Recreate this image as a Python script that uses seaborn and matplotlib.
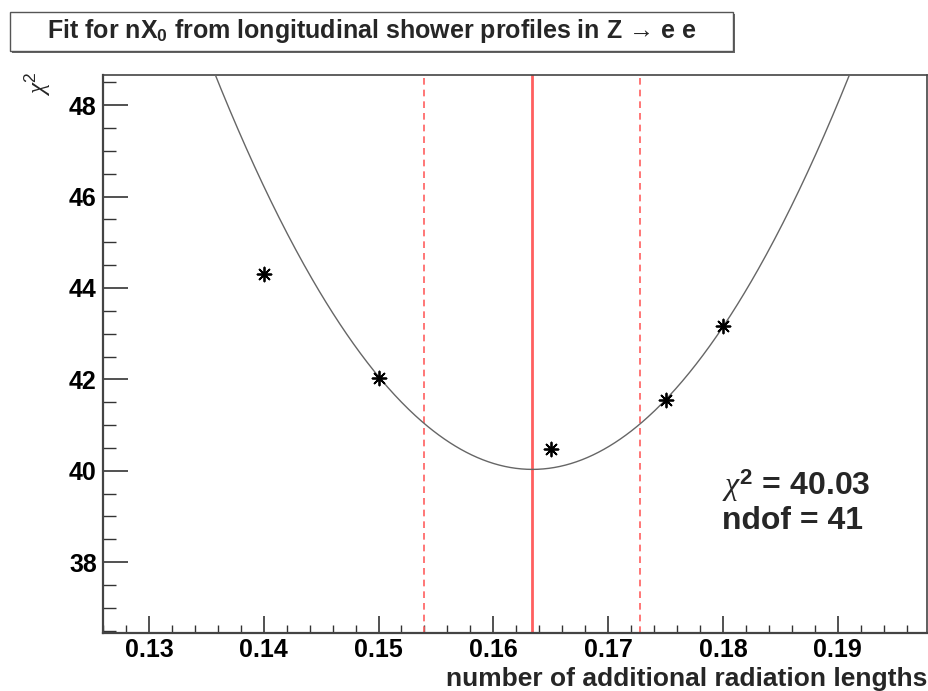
import numpy as np
import pandas as pd
import seaborn as sns
import matplotlib.pyplot as plt
from matplotlib.ticker import MultipleLocator, FixedLocator
from matplotlib.patches import Rectangle

# Scan points: chi2 of the shower-profile comparison vs. added material
n_x0 = [0.14, 0.15, 0.165, 0.175, 0.18]
chi2_values = [44.31, 42.03, 40.47, 41.55, 43.17]

# Parabolic fit result
chi2_min = 40.03
ndof = 41
best_x0 = 0.1634
sigma_x0 = 0.0094

x_tick_values = [0.13, 0.14, 0.15, 0.16, 0.17, 0.18, 0.19]
x_tick_labels = ["0.13", "0.14", "0.15", "0.16", "0.17", "0.18", "0.19"]
y_tick_values = [38, 40, 42, 44, 46, 48]
y_tick_labels = ["38", "40", "42", "44", "46", "48"]

x_range = (0.1260, 0.1978)
y_range = (36.45, 48.66)

sns.set_theme(style="white")
plt.rcParams["font.family"] = ["Liberation Sans", "DejaVu Sans"]
plt.rcParams["mathtext.fontset"] = "custom"
plt.rcParams["mathtext.it"] = "Liberation Serif:italic"
plt.rcParams["mathtext.rm"] = "Liberation Sans"
plt.rcParams["mathtext.sf"] = "Liberation Sans"
plt.rcParams["mathtext.bf"] = "Liberation Sans:bold"

W, H = 929, 691
fig = plt.figure(figsize=(W / 100, H / 100), dpi=100)
fig.patch.set_facecolor("white")

left, right, top, bottom = 103, 927.3, 75, 633
ax = fig.add_axes([left / W, 1 - bottom / H, (right - left) / W, (bottom - top) / H])
ax.set_facecolor("white")

# fitted parabola
fit_x = np.linspace(x_range[0], x_range[1], 600)
fit_df = pd.DataFrame({"x": fit_x, "chi2": chi2_min + ((fit_x - best_x0) / sigma_x0) ** 2})
sns.lineplot(data=fit_df, x="x", y="chi2", ax=ax, color="#666666", linewidth=1.0,
             sort=False, zorder=3)

# best value and one-sigma band edges
red = "#ff5f5f"
ax.axvline(best_x0, color=red, linewidth=2.0, zorder=2)
for xv in (best_x0 - sigma_x0, best_x0 + sigma_x0):
    ax.axvline(xv, color=red, linewidth=1.2, linestyle=(0, (4, 3)), zorder=2)

# scan points
pts = pd.DataFrame({"x": n_x0, "chi2": chi2_values})
sns.scatterplot(data=pts, x="x", y="chi2", ax=ax, marker=(8, 2, 0), s=100,
                color="black", linewidth=1.3, zorder=4)

ax.set_xlim(*x_range)
ax.set_ylim(*y_range)
ax.set_xlabel("")
ax.set_ylabel("")

ax.xaxis.set_major_locator(FixedLocator(x_tick_values))
ax.set_xticklabels(x_tick_labels)
ax.xaxis.set_minor_locator(MultipleLocator(0.002))
ax.yaxis.set_major_locator(FixedLocator(y_tick_values))
ax.set_yticklabels(y_tick_labels)
ax.yaxis.set_minor_locator(MultipleLocator(0.5))

for lab in ax.get_xticklabels() + ax.get_yticklabels():
    lab.set_fontsize(18)
    lab.set_fontweight("bold")
    lab.set_color("black")

ax.tick_params(axis="x", which="major", direction="in", length=12, width=1.2,
               color="#333333", pad=3.5, bottom=True, top=False)
ax.tick_params(axis="x", which="minor", direction="in", length=6, width=1.0,
               color="#333333", bottom=True, top=False)
ax.tick_params(axis="y", which="major", direction="in", length=18, width=1.2,
               color="#333333", pad=4.5, left=True, right=False)
ax.tick_params(axis="y", which="minor", direction="in", length=9, width=1.0,
               color="#333333", left=True, right=False)

for side, sp in ax.spines.items():
    sp.set_visible(True)
    sp.set_color("#444444")
    sp.set_linewidth(1.6 if side in ("left", "bottom") else 1.2)

# axis titles
fig.text(right / W, 1 - 686 / H, "number of additional radiation lengths",
         ha="right", va="baseline", fontsize=19, fontweight="bold")
fig.text(37 / W, 1 - 84 / H, r"$\chi^{\mathsf{2}}$", rotation=90,
         ha="center", va="center", fontsize=18)

# fit summary
fig.text(722 / W, 1 - 486 / H, r"$\chi^{\mathbf{2}}$ = " + f"{chi2_min:.2f}",
         ha="left", va="center", fontsize=23, fontweight="bold")
fig.text(722 / W, 1 - 521 / H, f"ndof = {ndof}",
         ha="left", va="center", fontsize=23, fontweight="bold")

# title box with drop shadow
bx0, bx1, by0, by1 = 10.5, 733, 12, 51
fig.patches.append(Rectangle((bx0 / W + 2 / W, 1 - by1 / H - 2 / H),
                             (bx1 - bx0) / W, (by1 - by0) / H,
                             transform=fig.transFigure, facecolor="#666666",
                             edgecolor="none", zorder=1))
fig.patches.append(Rectangle((bx0 / W, 1 - by1 / H), (bx1 - bx0) / W, (by1 - by0) / H,
                             transform=fig.transFigure, facecolor="white",
                             edgecolor="#555555", linewidth=1.0, zorder=2))
fig.text((bx0 + bx1) / 2 / W, 1 - 31 / H,
         r"Fit for nX$_{\mathbf{0}}$ from longitudinal shower profiles in Z → e e",
         ha="center", va="center", fontsize=18, fontweight="bold", zorder=3)

fig.savefig("out.png", dpi=100, facecolor="white")
